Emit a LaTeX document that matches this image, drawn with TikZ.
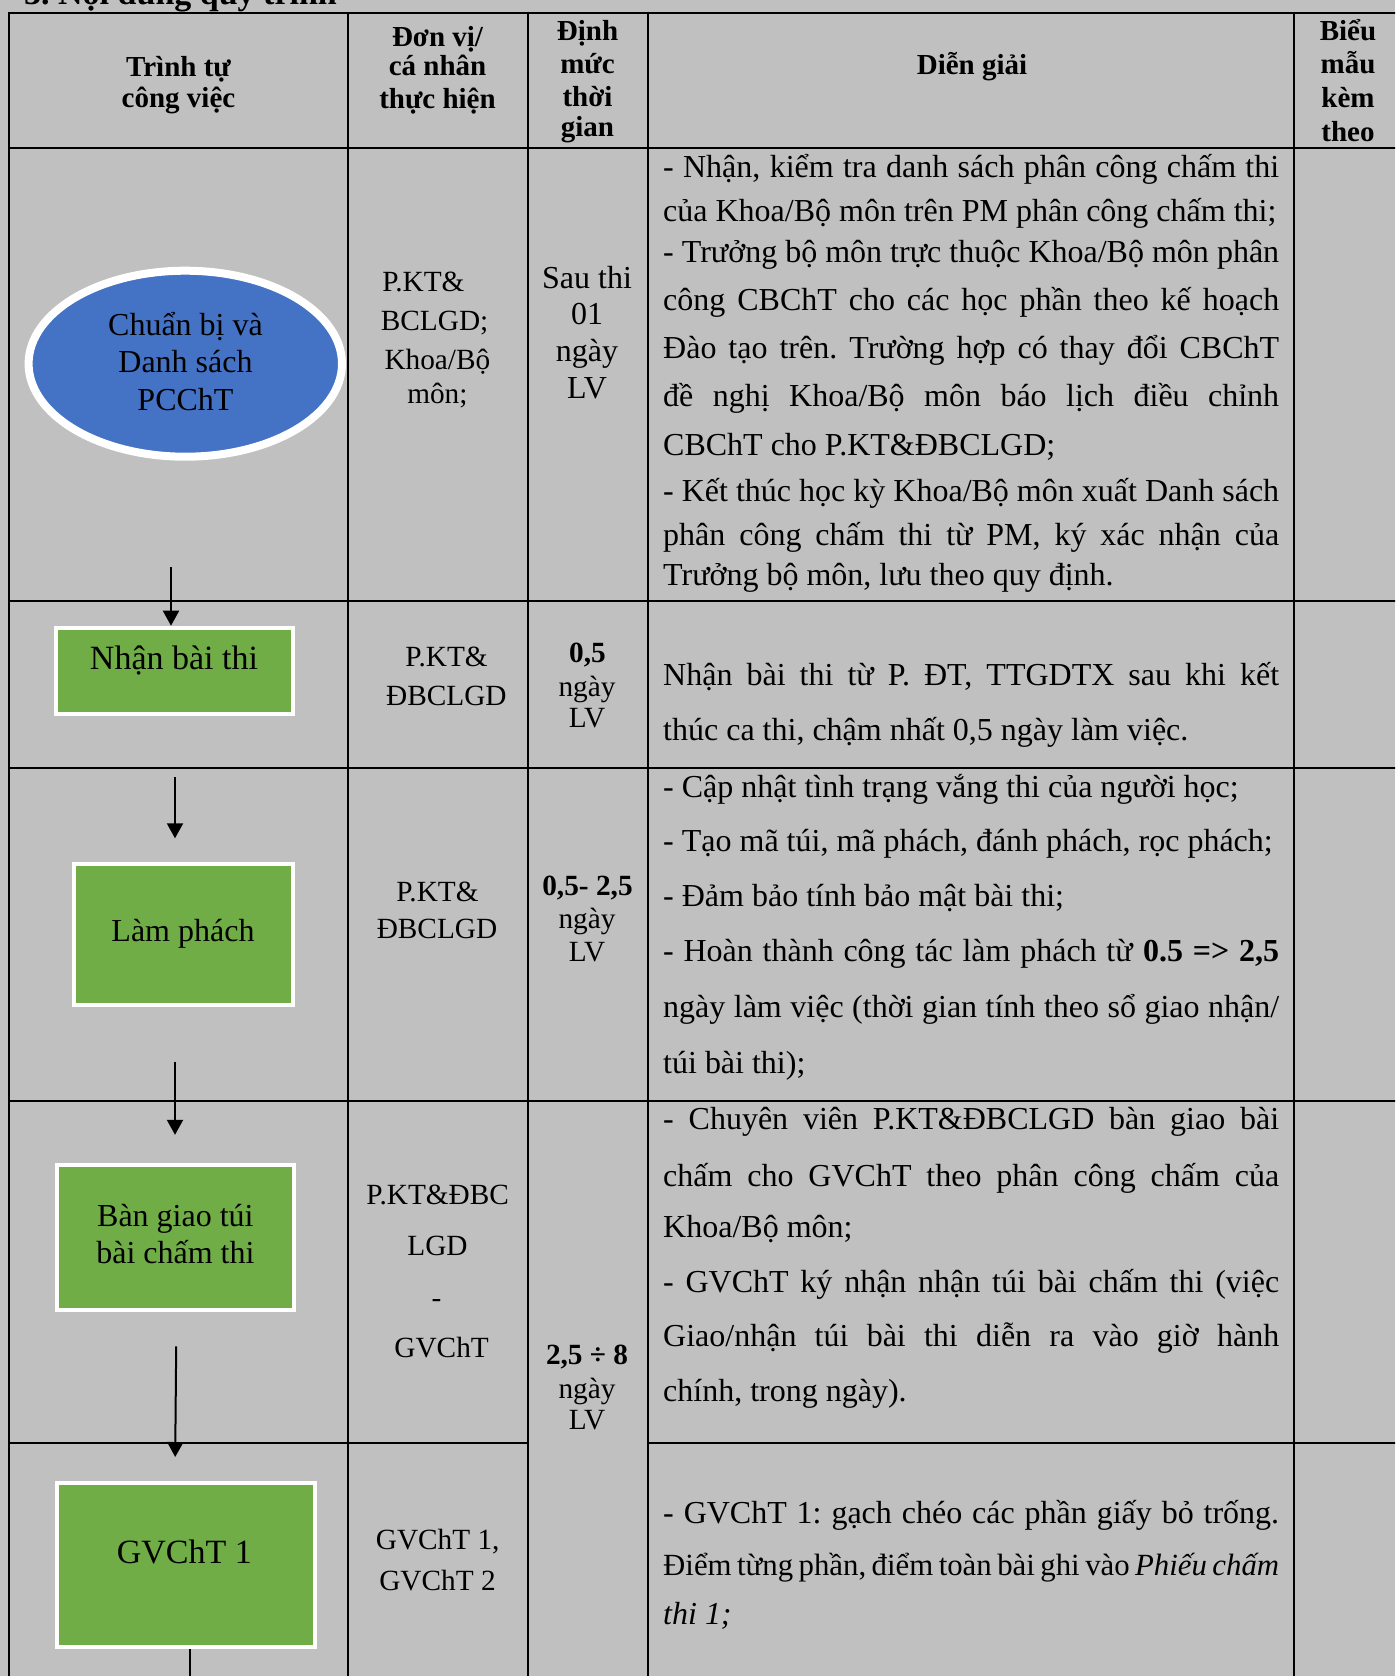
\documentclass[tikz,border=0pt]{standalone}
\usepackage{fontspec}
\setmainfont{Liberation Serif}
\usetikzlibrary{arrows.meta,shapes.geometric}
\definecolor{bgray}{HTML}{C0C0C0}
\definecolor{eblue}{HTML}{4472C4}
\definecolor{bgreen}{HTML}{70AD47}
\newcommand{\jl}[1]{\makebox[616pt][s]{#1}}
\frenchspacing
\begin{document}
\frenchspacing
\begin{tikzpicture}[x=1pt,y=-1pt,
  tbl/.style={line width=2pt,black},
  arr/.style={line width=2pt,black,-{Triangle[width=16pt,length=15pt]}},
  plainline/.style={line width=2pt,black},
  hd/.style={anchor=base,inner sep=0pt,font=\fontsize{29}{33}\selectfont\bfseries},
  tA/.style={anchor=base,inner sep=0pt,font=\fontsize{32}{37}\selectfont},
  tB/.style={anchor=base,inner sep=0pt,font=\fontsize{34}{38}\selectfont},
  tS/.style={anchor=base,inner sep=0pt,font=\fontsize{29.3}{33}\selectfont},
  tSb/.style={anchor=base,inner sep=0pt,font=\fontsize{29.3}{33}\selectfont\bfseries},
  jl/.style={anchor=base west,inner sep=0pt,font=\fontsize{32}{37}\selectfont},
  gbox/.style={rectangle,draw=white,line width=4pt,fill=bgreen,inner sep=0pt},
  oval/.style={ellipse,draw=white,line width=8pt,fill=eblue,inner sep=0pt}
]
\useasboundingbox (0,0) rectangle (1395,1676);
\clip (0,0) rectangle (1395,1676);
\fill[bgray] (0,0) rectangle (1395,1676);

% title (cut off at top, as in the reference)
\node[anchor=base west,inner sep=0pt,font=\fontsize{34}{38}\selectfont\bfseries] (title) at (24,4) {3. Nội dung quy trình};

% table grid
\draw[tbl] (9,12.5) -- (1400,12.5);
\draw[tbl] (9,148) -- (1400,148);
\draw[tbl] (9,601) -- (1400,601);
\draw[tbl] (9,767.5) -- (1400,767.5);
\draw[tbl] (9,1101) -- (1400,1101);
\draw[tbl] (9,1442.5) -- (528,1442.5);
\draw[tbl] (648,1442.5) -- (1400,1442.5);
\draw[tbl] (9,11.5) -- (9,1680);
\draw[tbl] (348,11.5) -- (348,1680);
\draw[tbl] (528,11.5) -- (528,1680);
\draw[tbl] (648,11.5) -- (648,1680);
\draw[tbl] (1294,11.5) -- (1294,1680);

% header
\node[hd] (h1a) at (178.5,76) {Trình tự};
\node[hd] (h1b) at (178.5,107.7) {công việc};
\node[hd] (h2a) at (437.5,46.7) {Đơn vị/};
\node[hd] (h2b) at (437.5,75) {cá nhân};
\node[hd] (h2c) at (437.5,108.3) {thực hiện};
\node[hd] (h3a) at (587.5,40) {Định};
\node[hd] (h3b) at (587.5,73.3) {mức};
\node[hd] (h3c) at (587.5,106) {thời};
\node[hd] (h3d) at (587.5,136.7) {gian};
\node[hd] (h4) at (972,74) {Diễn giải};
\node[hd] (h5a) at (1348,40) {Biểu};
\node[hd] (h5b) at (1348,73.3) {mẫu};
\node[hd] (h5c) at (1348,107.7) {kèm};
\node[hd] (h5d) at (1348,141.7) {theo};

% flow shapes
\node[oval,minimum width=313.4pt,minimum height=186pt] (e1) at (185.3,363.7) {};
\node[tA] (e1a) at (185.5,335) {Chuẩn bị và};
\node[tA] (e1b) at (185.5,372.3) {Danh sách};
\node[tA] (e1c) at (185.5,410) {PCChT};

\node[gbox,minimum width=236.6pt,minimum height=86pt] (b2) at (174.3,670.7) {};
\node[tB] (b2t) at (174,669.3) {Nhận bài thi};

\node[gbox,minimum width=218.6pt,minimum height=141.6pt] (b3) at (183.3,934.5) {};
\node[tA] (b3t) at (183,941) {Làm phách};

\node[gbox,minimum width=237pt,minimum height=144.7pt] (b4) at (175.9,1237.25) {};
\node[tA] (b4a) at (175.4,1226.4) {Bàn giao túi};
\node[tA] (b4b) at (175.4,1263.8) {bài chấm thi};

\node[gbox,minimum width=257.3pt,minimum height=164.5pt] (b5) at (186,1565) {};
\node[tB] (b5t) at (184.4,1563.5) {GVChT 1};

% connectors
\coordinate (a1s) at (171,567);
\draw[arr] (a1s) -- (a1s |- b2.north);
\coordinate (a2s) at (175,777);
\coordinate (a2e) at (175,838.3);
\draw[arr] (a2s) -- (a2e);
\coordinate (a3s) at (175,1061.7);
\coordinate (a3e) at (175,1134.8);
\draw[arr] (a3s) -- (a3e);
\coordinate (a4s) at (176.2,1346.4);
\coordinate (a4e) at (175.2,1457);
\draw[arr] (a4s) -- (a4e);
\coordinate (a5e) at (190,1680);
\draw[plainline] (a5e |- b5.south) -- (a5e);

% column 2
\node[tS] (r1c2a) at (423.4,291.7) {P.KT\&};
\node[tS] (r1c2b) at (434.6,330.7) {BCLGD;};
\node[tS] (r1c2c) at (437.4,369.3) {Khoa/Bộ};
\node[tS] (r1c2d) at (437.4,403.3) {môn;};
\node[tS] (r2c2a) at (446.6,666) {P.KT\&};
\node[tS] (r2c2b) at (446.4,705) {ĐBCLGD};
\node[tS] (r3c2a) at (437.5,901.7) {P.KT\&};
\node[tS] (r3c2b) at (437,938.3) {ĐBCLGD};
\node[tS] (r4c2a) at (437.7,1204) {P.KT\&ĐBC};
\node[tS] (r4c2b) at (437.5,1255.5) {LGD};
\node[tS] (r4c2c) at (436.6,1307) {-};
\node[tS] (r4c2d) at (441.6,1357.2) {GVChT};
\node[tS] (r5c2a) at (437.7,1549.7) {GVChT 1,};
\node[tS] (r5c2b) at (437.5,1590.8) {GVChT 2};

% column 3
\node[tA] (r1c3a) at (587,288.3) {Sau thi};
\node[tA] (r1c3b) at (587,324.3) {01};
\node[tA] (r1c3c) at (587,361.7) {ngày};
\node[tA] (r1c3d) at (587,398.3) {LV};
\node[tSb] (r2c3a) at (587.5,662.3) {0,5};
\node[tS] (r2c3b) at (587,696) {ngày};
\node[tS] (r2c3c) at (587,727.3) {LV};
\node[tSb] (r3c3a) at (587.5,895) {0,5- 2,5};
\node[tS] (r3c3b) at (587,928.3) {ngày};
\node[tS] (r3c3c) at (587,961.7) {LV};
\node[tSb] (r4c3a) at (587,1364.7) {2,5 ÷ 8};
\node[tS] (r4c3b) at (587,1398.3) {ngày};
\node[tS] (r4c3c) at (587,1429.3) {LV};

% column 4
\node[jl] (r1l1) at (663,177.3) {\jl{- Nhận, kiểm tra danh sách phân công chấm thi}};
\node[jl] (r1l2) at (663,221) {của Khoa/Bộ môn trên PM phân công chấm thi;};
\node[jl] (r1l3) at (663,262.7) {\jl{- Trưởng bộ môn trực thuộc Khoa/Bộ môn phân}};
\node[jl] (r1l4) at (663,310) {\jl{công CBChT cho các học phần theo kế hoạch}};
\node[jl] (r1l5) at (663,358) {\jl{Đào tạo trên. Trường hợp có thay đổi CBChT}};
\node[jl] (r1l6) at (663,406.7) {\jl{đề nghị Khoa/Bộ môn báo lịch điều chỉnh}};
\node[jl] (r1l7) at (663,455) {CBChT cho P.KT\&ĐBCLGD;};
\node[jl] (r1l8) at (663,501.7) {\jl{- Kết thúc học kỳ Khoa/Bộ môn xuất Danh sách}};
\node[jl] (r1l9) at (663,545) {\jl{phân công chấm thi từ PM, ký xác nhận của}};
\node[jl] (r1l10) at (663,585.7) {Trưởng bộ môn, lưu theo quy định.};

\node[jl] (r2l1) at (663,685) {\jl{Nhận bài thi từ P. ĐT, TTGDTX sau khi kết}};
\node[jl] (r2l2) at (663,740) {thúc ca thi, chậm nhất 0,5 ngày làm việc.};

\node[jl] (r3l1) at (663,797.3) {- Cập nhật tình trạng vắng thi của người học;};
\node[jl] (r3l2) at (663,851.7) {- Tạo mã túi, mã phách, đánh phách, rọc phách;};
\node[jl] (r3l3) at (663,906.7) {- Đảm bảo tính bảo mật bài thi;};
\node[jl] (r3l4) at (663,961.7) {\jl{- Hoàn thành công tác làm phách từ \textbf{0.5 => 2,5}}};
\node[jl] (r3l5) at (663,1017.7) {\jl{ngày làm việc (thời gian tính theo sổ giao nhận/}};
\node[jl] (r3l6) at (663,1073.3) {túi bài thi);};

\node[jl] (r4l1) at (663,1129) {\jl{- Chuyên viên P.KT\&ĐBCLGD bàn giao bài}};
\node[jl] (r4l2) at (663,1186.4) {\jl{chấm cho GVChT theo phân công chấm của}};
\node[jl] (r4l3) at (663,1237.6) {Khoa/Bộ môn;};
\node[jl] (r4l4) at (663,1292.5) {\jl{- GVChT ký nhận nhận túi bài chấm thi (việc}};
\node[jl] (r4l5) at (663,1346.7) {\jl{Giao/nhận túi bài thi diễn ra vào giờ hành}};
\node[jl] (r4l6) at (663,1401) {chính, trong ngày).};

\node[jl] (r5l1) at (663,1523.5) {\jl{- GVChT 1: gạch chéo các phần giấy bỏ trống.}};
\node[jl,font=\fontsize{30.8}{37}\selectfont] (r5l2) at (663,1575.8) {\jl{Điểm từng phần, điểm toàn bài ghi vào \textit{Phiếu chấm}}};
\node[jl] (r5l3) at (663,1624.4) {\textit{thi 1;}};
\end{tikzpicture}
\end{document}
